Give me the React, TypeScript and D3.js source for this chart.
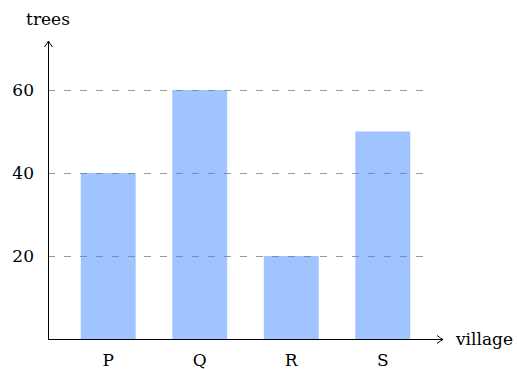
import React from "react";
import * as d3 from "d3";

const categories = ["P", "Q", "R", "S"];
const values = [40, 60, 20, 50];
const yTicks = [20, 40, 60];
const xTitle = "village";
const yTitle = "trees";

export default function App() {
  const W = 517, H = 369;
  const x0 = 48, y0 = 339;
  const xEnd = 443, yEnd = 41;
  const x = d3.scaleBand<string>().domain(categories).range([x0, xEnd]).paddingInner(0.4).paddingOuter(0.358);
  const y = d3.scaleLinear().domain([0, 60]).range([y0, 90]);
  const font = "'DejaVu Serif', serif";
  const fs = 17;
  return (
    <svg width={W} height={H} style={{ position: "absolute", left: 0, top: 0 }}>
      <rect width={W} height={H} fill="#fff" />
      {categories.map((c, i) => (
        <rect key={c} x={x(c)} y={y(values[i])} width={x.bandwidth()} height={y0 - y(values[i])} fill="#a0c4ff" />
      ))}
      {yTicks.map((t) => (
        <g key={t}>
          <line x1={x0} x2={425} y1={y(t)} y2={y(t)} stroke="#808080" strokeOpacity={0.8} strokeWidth={1} strokeDasharray="7,9" transform="translate(0,0.5)" />
          <text x={34} y={y(t)} dy="0.35em" textAnchor="end" fontFamily={font} fontSize={fs} fill="#000">{t}</text>
        </g>
      ))}
      <line x1={x0 + 0.5} x2={x0 + 0.5} y1={y0 + 0.5} y2={yEnd} stroke="#000" strokeWidth={1} />
      <line x1={x0} x2={xEnd} y1={y0 + 0.5} y2={y0 + 0.5} stroke="#000" strokeWidth={1} />
      <path d={`M${x0 + 0.5 - 4},${yEnd + 6} Q${x0 + 0.5 - 1},${yEnd + 2} ${x0 + 0.5},${yEnd} Q${x0 + 0.5 + 1},${yEnd + 2} ${x0 + 0.5 + 4},${yEnd + 6}`} fill="none" stroke="#000" strokeWidth={1} />
      <path d={`M${xEnd - 6},${y0 + 0.5 - 4} Q${xEnd - 2},${y0 + 0.5 - 1} ${xEnd},${y0 + 0.5} Q${xEnd - 2},${y0 + 0.5 + 1} ${xEnd - 6},${y0 + 0.5 + 4}`} fill="none" stroke="#000" strokeWidth={1} />
      {categories.map((c) => (
        <text key={c} x={(x(c) as number) + x.bandwidth() / 2} y={360} dy="0.35em" textAnchor="middle" fontFamily={font} fontSize={fs} fill="#000">{c}</text>
      ))}
      <text x={x0} y={25} textAnchor="middle" fontFamily={font} fontSize={fs} fill="#000">{yTitle}</text>
      <text x={456} y={y0} dy="0.35em" textAnchor="start" fontFamily={font} fontSize={fs} fill="#000">{xTitle}</text>
    </svg>
  );
}
